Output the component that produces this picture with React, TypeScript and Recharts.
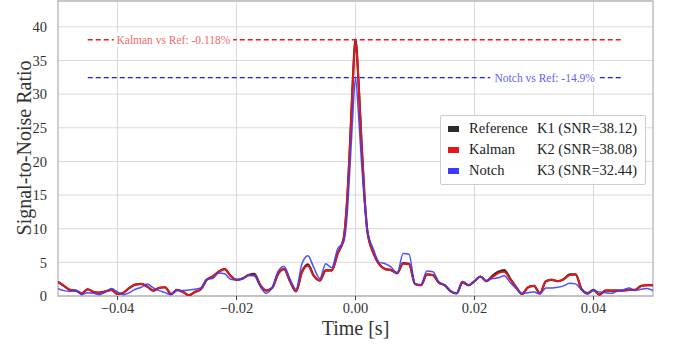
import React from "react";
import { LineChart, Line, XAxis, YAxis, CartesianGrid, ReferenceLine, ReferenceArea, ReferenceDot } from "recharts";

// time in milliseconds (denser around the peak)
const TIME_MS = [
  -50, -49, -48, -47, -46, -45, -44, -43, -42, -41,
  -40, -39, -38, -37, -36, -35, -34, -33, -32, -31,
  -30, -29, -28, -27, -26, -25, -24, -23, -22, -21,
  -20, -19, -18, -17, -16, -15, -14, -13, -12, -11,
  -10, -9, -8, -7, -6, -5, -4, -3, -2,
  -1.5, -1, -0.5, 0, 0.5, 1, 1.5,
  2, 3, 4, 5, 6, 7, 8, 9,
  10, 11, 12, 13, 14, 15, 16, 17, 18, 19,
  20, 21, 22, 23, 24, 25, 26, 27, 28, 29,
  30, 31, 32, 33, 34, 35, 36, 37, 38, 39,
  40, 41, 42, 43, 44, 45, 46, 47, 48, 49, 50,
];

const REFERENCE = [
  2.1, 1.5, 0.9, 0.8, 0.4, 1.0, 0.6, 0.5, 0.7, 0.9,
  0.3, 0.5, 1.2, 1.7, 1.8, 1.4, 0.8, 1.2, 1.3, 0.3,
  0.9, 0.6, 0.1, 0.6, 1.0, 2.4, 2.9, 3.6, 4.0, 3.0,
  2.4, 2.6, 3.1, 3.3, 1.6, 0.8, 1.2, 3.3, 4.0, 2.2,
  0.7, 3.6, 4.7, 3.0, 2.3, 3.8, 3.8, 6.3, 8.5,
  13, 21, 31, 38.12, 32, 23, 15,
  9.6, 6.4, 4.7, 4.0, 3.85, 3.4, 4.9, 4.8,
  1.8, 1.6, 3.2, 3.1, 2.0, 1.6, 0.7, 0.4, 2.1, 1.6,
  2.2, 2.9, 2.2, 3.0, 3.6, 3.85, 2.6, 1.3, 0.3, 1.3,
  1.5, 0.4, 2.2, 2.4, 2.2, 2.5, 3.2, 3.2, 1.0, 0.4,
  0.9, 0.2, 0.8, 0.8, 0.8, 0.8, 0.9, 0.9, 1.5, 1.6, 1.6,
];

const KALMAN = [
  2.1, 1.5, 0.9, 0.8, 0.4, 1.0, 0.6, 0.5, 0.7, 0.9,
  0.3, 0.5, 1.2, 1.7, 1.8, 1.4, 0.8, 1.2, 1.3, 0.3,
  0.9, 0.6, 0.1, 0.6, 1.0, 2.4, 2.9, 3.6, 4.0, 3.0,
  2.4, 2.6, 3.1, 3.1, 1.6, 0.8, 1.2, 3.3, 4.0, 2.2,
  0.7, 3.5, 4.5, 3.0, 2.3, 3.8, 3.8, 6.3, 8.5,
  13, 21, 31, 38.08, 32, 23, 15,
  9.6, 6.4, 4.7, 4.0, 3.85, 3.4, 4.8, 4.7,
  1.8, 1.6, 3.2, 3.1, 2.0, 1.6, 0.7, 0.4, 2.1, 1.6,
  2.2, 2.9, 2.2, 2.8, 3.4, 3.6, 2.5, 1.3, 0.3, 1.3,
  1.5, 0.4, 2.2, 2.4, 2.2, 2.5, 3.1, 3.2, 1.0, 0.4,
  0.9, 0.2, 0.8, 0.8, 0.8, 0.8, 0.9, 0.9, 1.5, 1.6, 1.6,
];

const NOTCH = [
  1.1, 0.8, 0.7, 0.8, 0.2, 0.5, 0.4, 0.2, 0.6, 1.1,
  0.6, 0.2, 0.5, 1.0, 1.3, 1.8, 1.2, 0.8, 0.5, 0.2,
  0.8, 0.8, 0.9, 1.0, 1.2, 2.5, 2.6, 3.4, 3.3, 2.5,
  2.4, 2.5, 3.1, 3.0, 1.4, 0.4, 1.3, 3.7, 4.4, 2.5,
  1.0, 4.8, 6.0, 4.2, 2.6, 4.8, 4.2, 7.0, 8.0,
  11, 18, 26, 32.44, 27, 20, 14,
  9.8, 7.0, 5.0, 4.8, 4.3, 3.3, 6.3, 6.2,
  1.8, 1.7, 3.7, 3.6, 2.1, 1.6, 0.7, 0.4, 1.9, 1.6,
  2.2, 2.9, 2.3, 2.6, 2.7, 3.0, 2.0, 1.1, 0.4, 0.5,
  0.6, 0.3, 1.2, 1.2, 1.3, 1.5, 1.9, 1.8, 0.9, 0.3,
  0.8, 0.6, 0.5, 0.4, 0.7, 0.9, 1.2, 0.8, 1.0, 1.1, 0.8,
];

const SERIES_NAMES = ["Reference", "Kalman", "Notch"];
const SERIES_TAGS = ["K1", "K2", "K3"];
const PEAK_SNR = [38.12, 38.08, 32.44];
const SERIES_COLORS = ["#2b2b2b", "#e3161b", "#3b3bff"];

const X_TICKS = [-0.04, -0.02, 0, 0.02, 0.04];
const Y_TICKS = [0, 5, 10, 15, 20, 25, 30, 35, 40];

const KALMAN_NOTE = "Kalman vs Ref: -0.118%";
const NOTCH_NOTE = "Notch vs Ref: -14.9%";

const data = TIME_MS.map((ms, i) => ({
  t: ms / 1000,
  ref: REFERENCE[i],
  kalman: KALMAN[i],
  notch: NOTCH[i],
}));

const FONT = '"Liberation Serif", "DejaVu Serif", serif';
const Y_MAX = 43.84;

const fmtX = (v: number) => v.toFixed(2).replace("-", "\u2212");

const noteLabel = (text: string, color: string) => (props: any) => {
  const vb = props.viewBox || {};
  const cx = vb.x + (vb.width || 0) / 2;
  const cy = vb.y + (vb.height || 0) / 2;
  const w = text.length * 5.15;
  return (
    <g>
      <rect x={cx - w / 2 - 3} y={cy - 7} width={w + 6} height={14} fill="#fff" />
      <text x={cx} y={cy} textAnchor="middle" dominantBaseline="central" fontFamily={FONT} fontSize={11.5} fill={color}>
        {text}
      </text>
    </g>
  );
};

const LegendBox = () => (
  <div
    style={{
      position: "absolute",
      left: 440,
      top: 115,
      width: 206,
      boxSizing: "border-box",
      background: "rgba(255,255,255,0.9)",
      border: "1px solid #cccccc",
      borderRadius: 2,
      padding: "2px 6px 3px 7px",
      fontFamily: FONT,
      fontSize: 14.5,
      color: "#222",
      lineHeight: "21px",
    }}
  >
    {SERIES_NAMES.map((name, i) => (
      <div key={name} style={{ display: "flex", alignItems: "center", whiteSpace: "nowrap" }}>
        <span style={{ display: "inline-block", width: 11, height: 6, background: SERIES_COLORS[i], marginRight: 10 }} />
        <span style={{ display: "inline-block", width: 68 }}>{name}</span>
        <span>{SERIES_TAGS[i]} (SNR={PEAK_SNR[i].toFixed(2)})</span>
      </div>
    ))}
  </div>
);

export default function App() {
  return (
    <div style={{ position: "absolute", left: 0, top: 0, width: 673, height: 349, background: "#fff" }}>
      <LineChart width={673} height={349} data={data} margin={{ top: 1, right: 20, bottom: 0, left: 0 }}>
        <CartesianGrid stroke="#d9d9d9" strokeWidth={1} horizontalValues={Y_TICKS} verticalValues={X_TICKS} />
        <XAxis
          dataKey="t"
          type="number"
          domain={[-0.05, 0.05]}
          ticks={X_TICKS}
          tickFormatter={fmtX}
          allowDataOverflow
          height={53}
          axisLine={false}
          tickLine={{ stroke: "#444" }}
          tickSize={4}
          tickMargin={3}
          tick={{ fontFamily: FONT, fontSize: 14.5, fill: "#333" }}
          label={{ value: "Time [s]", position: "insideBottom", offset: 14, fontFamily: FONT, fontSize: 20, fill: "#333" }}
        />
        <YAxis
          type="number"
          domain={[0, Y_MAX]}
          ticks={Y_TICKS}
          allowDataOverflow
          width={58}
          axisLine={false}
          tickLine={false}
          tickMargin={5}
          tick={{ fontFamily: FONT, fontSize: 14.5, fill: "#333" }}
          label={{
            content: () => (
              <text x={24} y={148} transform="rotate(-90 24 148)" textAnchor="middle" dominantBaseline="central" fontFamily={FONT} fontSize={20} fill="#333">
                Signal-to-Noise Ratio
              </text>
            ),
          }}
        />
        <ReferenceLine
          segment={[{ x: -0.045, y: KALMAN[52] }, { x: 0.045, y: KALMAN[52] }]}
          stroke="#f01818"
          strokeWidth={1.3}
          strokeDasharray="5 3"
        />
        <ReferenceLine
          segment={[{ x: -0.045, y: NOTCH[52] }, { x: 0.045, y: NOTCH[52] }]}
          stroke="#1818f5"
          strokeWidth={1.3}
          strokeDasharray="5 3"
        />
        <ReferenceDot x={-0.0306} y={KALMAN[52]} r={1} fill="none" stroke="none" label={{ content: noteLabel(KALMAN_NOTE, "#f06a6a") }} />
        <ReferenceDot x={0.0318} y={NOTCH[52]} r={1} fill="none" stroke="none" label={{ content: noteLabel(NOTCH_NOTE, "#6060ff") }} />
        <Line type="monotone" dataKey="ref" name={SERIES_NAMES[0]} stroke={SERIES_COLORS[0]} strokeWidth={2.2} dot={false} isAnimationActive={false} />
        <Line type="monotone" dataKey="kalman" name={SERIES_NAMES[1]} stroke={SERIES_COLORS[1]} strokeWidth={2} dot={false} isAnimationActive={false} />
        <Line type="monotone" dataKey="notch" name={SERIES_NAMES[2]} stroke={SERIES_COLORS[2]} strokeWidth={1.5} strokeOpacity={0.9} dot={false} isAnimationActive={false} />
        <ReferenceArea x1={-0.05} x2={0.05} y1={0} y2={Y_MAX} fill="none" stroke="#b5b5b5" strokeWidth={1.3} ifOverflow="visible" />
      </LineChart>
      <LegendBox />
    </div>
  );
}
